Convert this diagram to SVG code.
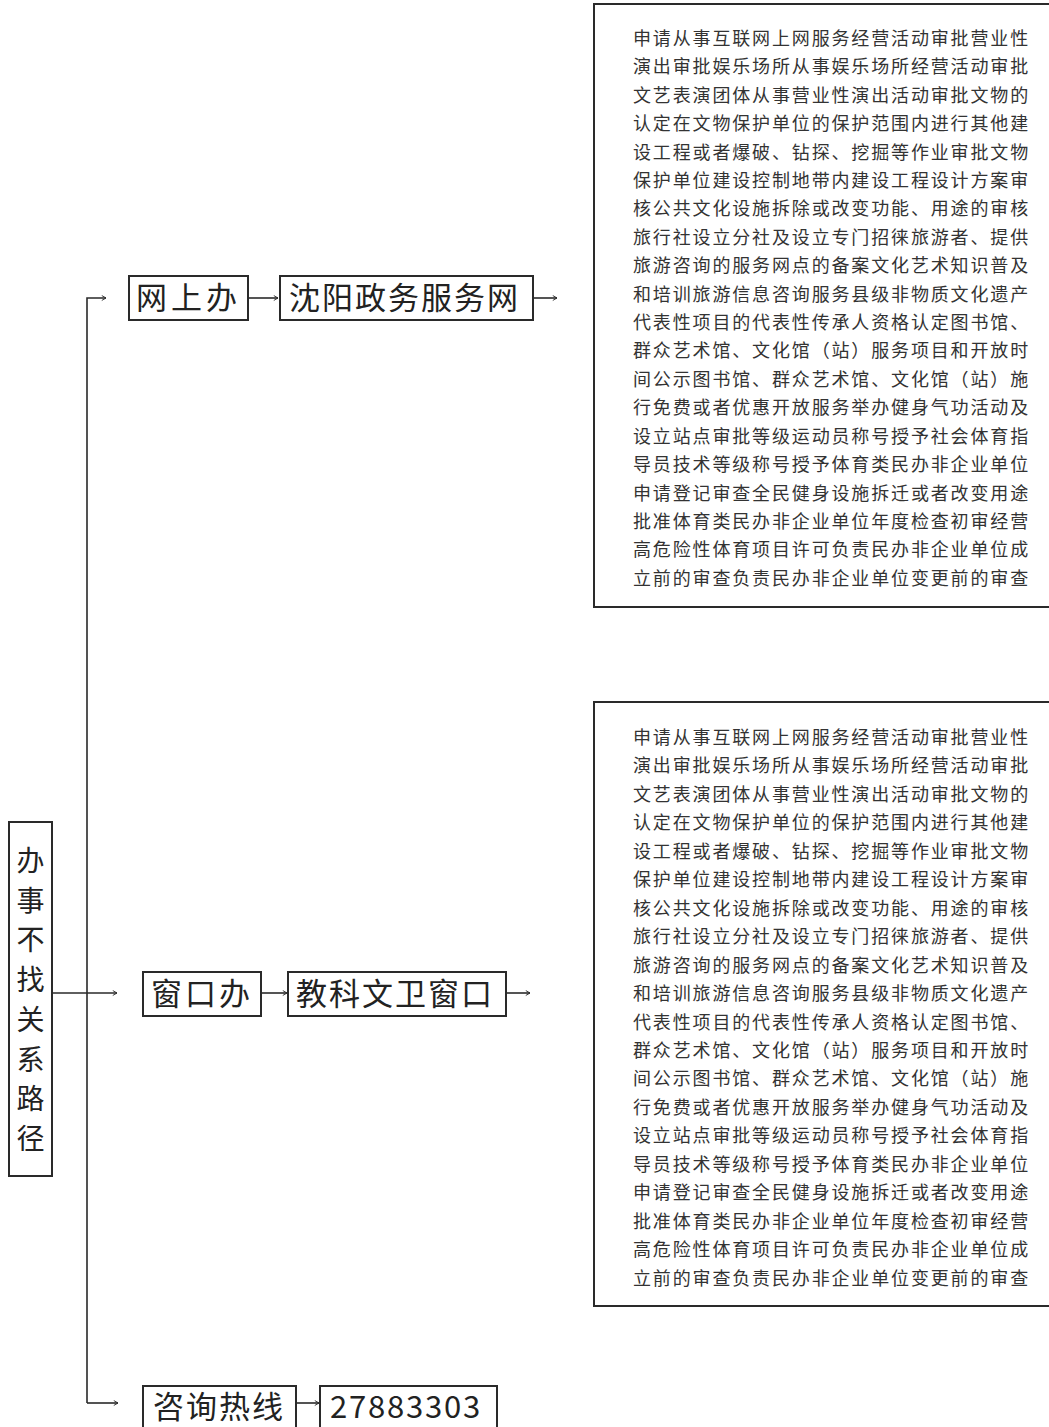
<svg xmlns="http://www.w3.org/2000/svg" width="1049" height="1427" viewBox="0 0 1049 1427">
<style>
.box{fill:#fff;stroke:#2a2a2a;stroke-width:2}
.lbl{font-family:"Noto Sans CJK SC","Noto Sans",sans-serif;font-size:31px;fill:#222}
.vlbl{font-family:"Noto Sans CJK SC","Noto Sans",sans-serif;font-size:28px;fill:#222}
.txt{font-family:"Noto Sans CJK SC","Noto Sans",sans-serif;font-size:18px;fill:#333;letter-spacing:1.85px}
.con{fill:none;stroke:#2a2a2a;stroke-width:1.6}
</style>
<defs>
<marker id="arr" viewBox="0 0 10 10" refX="9" refY="5" markerWidth="7" markerHeight="7" markerUnits="userSpaceOnUse" orient="auto">
<path d="M3,1.5 L9,5 L3,8.5" fill="none" stroke="#2a2a2a" stroke-width="1.3"/>
</marker>
</defs>
<rect width="1049" height="1427" fill="#fff"/>
<g id="connectors">
<path class="con" d="M87,1403 L87,298 L106,298" marker-end="url(#arr)"/>
<path class="con" d="M87,1403 L118,1403" marker-end="url(#arr)"/>
<path class="con" d="M52,993 L117,993" marker-end="url(#arr)"/>
<path class="con" d="M248,298 L278,298" marker-end="url(#arr)"/>
<path class="con" d="M533,298 L557,298" marker-end="url(#arr)"/>
<path class="con" d="M261,993 L287,993" marker-end="url(#arr)"/>
<path class="con" d="M506,993 L530,993" marker-end="url(#arr)"/>
<path class="con" d="M296,1403 L319,1403" marker-end="url(#arr)"/>
</g>
<g id="root">
<rect class="box" x="9" y="822" width="43" height="354"/>
<text class="vlbl" x="30.5" y="871" text-anchor="middle">办</text>
<text class="vlbl" x="30.5" y="910.7" text-anchor="middle">事</text>
<text class="vlbl" x="30.5" y="950.4" text-anchor="middle">不</text>
<text class="vlbl" x="30.5" y="990.1" text-anchor="middle">找</text>
<text class="vlbl" x="30.5" y="1029.8" text-anchor="middle">关</text>
<text class="vlbl" x="30.5" y="1069.5" text-anchor="middle">系</text>
<text class="vlbl" x="30.5" y="1109.2" text-anchor="middle">路</text>
<text class="vlbl" x="30.5" y="1148.9" text-anchor="middle">径</text>
</g>
<g id="online">
<rect class="box" x="129" y="276" width="119" height="44"/>
<text class="lbl" x="136" y="309" letter-spacing="4">网上办</text>
</g>
<g id="syzwfww">
<rect class="box" x="280" y="276" width="253" height="44"/>
<text class="lbl" x="289" y="309" letter-spacing="2">沈阳政务服务网</text>
</g>
<g id="window">
<rect class="box" x="143" y="972" width="118" height="44"/>
<text class="lbl" x="151" y="1005" letter-spacing="3">窗口办</text>
</g>
<g id="jkwwck">
<rect class="box" x="288" y="972" width="218" height="44"/>
<text class="lbl" x="296" y="1005" letter-spacing="2">教科文卫窗口</text>
</g>
<g id="hotline">
<rect class="box" x="143" y="1386" width="153" height="50"/>
<text class="lbl" x="153" y="1418" letter-spacing="2">咨询热线</text>
</g>
<g id="phone">
<rect class="box" x="320" y="1386" width="177" height="50"/>
<text class="lbl" x="330" y="1418" font-size="33" letter-spacing="1.8">27883303</text>
</g>
<g id="list1">
<rect class="box" x="594" y="4" width="470" height="603"/>
<text class="txt">
<tspan x="633" y="44.8">申请从事互联网上网服务经营活动审批营业性</tspan>
<tspan x="633" y="73.2">演出审批娱乐场所从事娱乐场所经营活动审批</tspan>
<tspan x="633" y="101.6">文艺表演团体从事营业性演出活动审批文物的</tspan>
<tspan x="633" y="130.1">认定在文物保护单位的保护范围内进行其他建</tspan>
<tspan x="633" y="158.5">设工程或者爆破、钻探、挖掘等作业审批文物</tspan>
<tspan x="633" y="186.9">保护单位建设控制地带内建设工程设计方案审</tspan>
<tspan x="633" y="215.3">核公共文化设施拆除或改变功能、用途的审核</tspan>
<tspan x="633" y="243.7">旅行社设立分社及设立专门招徕旅游者、提供</tspan>
<tspan x="633" y="272.2">旅游咨询的服务网点的备案文化艺术知识普及</tspan>
<tspan x="633" y="300.6">和培训旅游信息咨询服务县级非物质文化遗产</tspan>
<tspan x="633" y="329.0">代表性项目的代表性传承人资格认定图书馆、</tspan>
<tspan x="633" y="357.4">群众艺术馆、文化馆（站）服务项目和开放时</tspan>
<tspan x="633" y="385.8">间公示图书馆、群众艺术馆、文化馆（站）施</tspan>
<tspan x="633" y="414.3">行免费或者优惠开放服务举办健身气功活动及</tspan>
<tspan x="633" y="442.7">设立站点审批等级运动员称号授予社会体育指</tspan>
<tspan x="633" y="471.1">导员技术等级称号授予体育类民办非企业单位</tspan>
<tspan x="633" y="499.5">申请登记审查全民健身设施拆迁或者改变用途</tspan>
<tspan x="633" y="527.9">批准体育类民办非企业单位年度检查初审经营</tspan>
<tspan x="633" y="556.4">高危险性体育项目许可负责民办非企业单位成</tspan>
<tspan x="633" y="584.8">立前的审查负责民办非企业单位变更前的审查</tspan>
</text>
</g>
<g id="list2">
<rect class="box" x="594" y="702" width="470" height="604"/>
<text class="txt">
<tspan x="633" y="743.8">申请从事互联网上网服务经营活动审批营业性</tspan>
<tspan x="633" y="772.3">演出审批娱乐场所从事娱乐场所经营活动审批</tspan>
<tspan x="633" y="800.7">文艺表演团体从事营业性演出活动审批文物的</tspan>
<tspan x="633" y="829.2">认定在文物保护单位的保护范围内进行其他建</tspan>
<tspan x="633" y="857.7">设工程或者爆破、钻探、挖掘等作业审批文物</tspan>
<tspan x="633" y="886.2">保护单位建设控制地带内建设工程设计方案审</tspan>
<tspan x="633" y="914.6">核公共文化设施拆除或改变功能、用途的审核</tspan>
<tspan x="633" y="943.1">旅行社设立分社及设立专门招徕旅游者、提供</tspan>
<tspan x="633" y="971.6">旅游咨询的服务网点的备案文化艺术知识普及</tspan>
<tspan x="633" y="1000.0">和培训旅游信息咨询服务县级非物质文化遗产</tspan>
<tspan x="633" y="1028.5">代表性项目的代表性传承人资格认定图书馆、</tspan>
<tspan x="633" y="1057.0">群众艺术馆、文化馆（站）服务项目和开放时</tspan>
<tspan x="633" y="1085.4">间公示图书馆、群众艺术馆、文化馆（站）施</tspan>
<tspan x="633" y="1113.9">行免费或者优惠开放服务举办健身气功活动及</tspan>
<tspan x="633" y="1142.4">设立站点审批等级运动员称号授予社会体育指</tspan>
<tspan x="633" y="1170.9">导员技术等级称号授予体育类民办非企业单位</tspan>
<tspan x="633" y="1199.3">申请登记审查全民健身设施拆迁或者改变用途</tspan>
<tspan x="633" y="1227.8">批准体育类民办非企业单位年度检查初审经营</tspan>
<tspan x="633" y="1256.3">高危险性体育项目许可负责民办非企业单位成</tspan>
<tspan x="633" y="1284.8">立前的审查负责民办非企业单位变更前的审查</tspan>
</text>
</g>
</svg>
